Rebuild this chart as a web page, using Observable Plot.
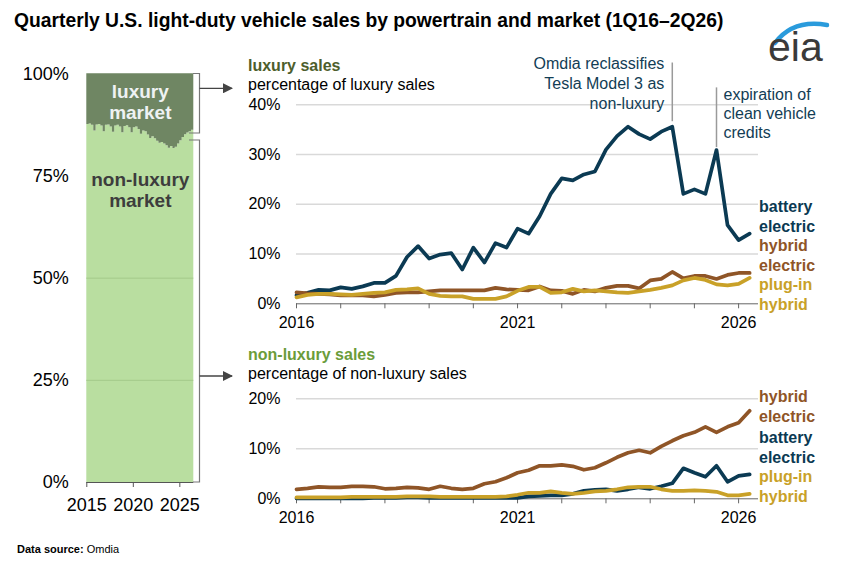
<!DOCTYPE html>
<html><head><meta charset="utf-8">
<script src="https://cdn.jsdelivr.net/npm/d3@7"></script>
<script src="https://cdn.jsdelivr.net/npm/@observablehq/plot@0.6"></script>
<style>
body{margin:0;background:#fff;font-family:"Liberation Sans",Arial,sans-serif;}
#root{position:relative;width:849px;height:580px;overflow:hidden;background:#fff}
.abs{position:absolute;white-space:nowrap}
.title{left:14px;top:10px;font-size:19.3px;font-weight:bold;color:#000}
.head{font-size:16px;line-height:19px}
.lab{font-size:16px;font-weight:bold;line-height:19.6px}
.foot{left:17px;top:543px;font-size:11px;color:#000}
svg{overflow:visible}
</style></head><body><div id="root"></div>
<script>
// ---------- data ----------
const series = ["battery electric", "hybrid electric", "plug-in hybrid"];
const seriesColors = ["#0b3a53", "#8f5527", "#c9a128"];

// quarter labels 1Q16 .. 2Q26
const quarters = [];
for (let y = 16; y <= 26; y++) for (let q = 1; q <= 4; q++) if (!(y === 26 && q > 2)) quarters.push(q + "Q" + y);

// percentage of luxury sales
const bevLux  = [1.7,2.2,2.8,2.7,3.3,3.0,3.5,4.2,4.2,5.6,9.4,11.6,9.1,9.9,10.2,6.9,11.3,8.3,12.2,11.3,15.1,14.1,17.6,22.1,25.2,24.8,26.0,26.6,31.0,33.7,35.6,34.1,33.1,34.6,35.6,22.1,23.0,22.1,30.9,15.8,12.8,14.1];
const hevLux  = [2.3,2.1,2.0,1.9,1.7,1.7,1.7,1.5,1.8,2.2,2.3,2.3,2.5,2.7,2.7,2.7,2.7,2.7,3.2,2.9,2.8,2.7,3.5,2.7,2.6,2.0,2.8,2.5,3.2,3.6,3.6,3.1,4.7,5.0,6.4,5.1,5.6,5.6,5.0,5.8,6.2,6.2];
const phevLux = [1.3,1.8,2.0,2.0,1.9,1.8,2.0,2.2,2.3,2.8,2.9,3.1,2.0,1.6,1.5,1.5,1.0,1.0,1.0,1.5,2.6,3.4,3.4,2.2,2.3,3.0,2.5,2.7,2.5,2.3,2.2,2.5,2.8,3.2,3.7,4.7,5.2,4.8,3.9,3.7,4.0,5.2];

// percentage of non-luxury sales
const bevNon  = [0.1,0.1,0.1,0.1,0.1,0.1,0.1,0.2,0.2,0.2,0.3,0.3,0.2,0.2,0.2,0.2,0.2,0.2,0.2,0.2,0.2,0.5,0.6,0.7,0.7,1.0,1.6,1.8,1.9,1.6,1.9,2.3,2.0,2.5,3.1,6.1,5.2,4.4,6.6,3.4,4.6,4.9];
const hevNon  = [1.9,2.1,2.4,2.3,2.3,2.5,2.5,2.4,2.0,2.1,2.3,2.2,1.9,2.5,2.1,1.9,2.1,3.0,3.4,4.2,5.2,5.7,6.6,6.6,6.8,6.5,5.8,6.2,7.2,8.3,9.2,9.7,9.2,10.5,11.6,12.6,13.3,14.4,13.3,14.4,15.2,17.6];
const phevNon = [0.3,0.3,0.3,0.3,0.3,0.4,0.4,0.4,0.4,0.4,0.5,0.5,0.5,0.4,0.4,0.4,0.4,0.4,0.4,0.5,0.8,1.2,1.2,1.5,1.2,1.0,1.2,1.5,1.6,1.9,2.3,2.4,2.4,1.9,1.6,1.6,1.7,1.6,1.4,0.7,0.7,1.0];

// luxury share of all light-duty sales, 1Q15 .. 2Q26
const shareQuarters = [];
for (let y = 15; y <= 26; y++) for (let q = 1; q <= 4; q++) if (!(y === 26 && q > 2)) shareQuarters.push(q + "Q" + y);
const luxuryShare = [12.4,12.3,12.6,14.0, 12.5,12.4,12.8,14.2, 12.6,12.5,13.0,14.3, 12.8,12.6,13.0,14.4,
                     12.9,12.7,13.2,14.4, 13.2,13.0,13.6,14.8, 14.0,14.2,15.0,15.8, 15.4,15.9,16.5,17.0,
                     16.8,17.2,17.6,18.2, 17.8,18.3,18.0,17.2, 16.4,15.6,14.9,14.5, 14.2,13.8];

const luxYTicks = [0,10,20,30,40];
const nonYTicks = [0,10,20];
const shareYTicks = [0,25,50,75,100];
const xLabelYears = [2016,2021,2026];
const shareXLabelYears = [2015,2020,2025];

const reclassEvent = [{quarter: "3Q24", label: "Omdia reclassifies\nTesla Model 3 as\nnon-luxury"}];
const creditEvent  = [{quarter: "3Q25", label: "expiration of\nclean vehicle\ncredits"}];

// ---------- helpers ----------
const qx = s => 2000 + +s.slice(2) + (+s[0] - 1) / 4;
function longTable(arrs) {
  const out = [];
  arrs.forEach((arr, k) => arr.forEach((v, i) => out.push({x: qx(quarters[i]), value: v, series: series[k]})));
  return out;
}
const luxData = longTable([bevLux, hevLux, phevLux]);
const nonData = longTable([bevNon, hevNon, phevNon]);
const shareData = luxuryShare.map((v, i) => ({x: qx(shareQuarters[i]), lux: v}));
shareData.push({x: shareData[shareData.length - 1].x + 0.25, lux: luxuryShare[luxuryShare.length - 1]});
const reclass = reclassEvent.map(e => ({...e, x: qx(e.quarter)}));
const credit = creditEvent.map(e => ({...e, x: qx(e.quarter)}));

const FONT = '"Liberation Sans", Arial, sans-serif';
const root = document.getElementById("root");
function place(el, left, top) {
  el.style.position = "absolute"; el.style.left = left + "px"; el.style.top = top + "px";
  root.appendChild(el);
}
function html(cls, left, top, inner, color) {
  const d = document.createElement("div");
  d.className = "abs " + cls; d.innerHTML = inner;
  if (left != null) d.style.left = left + "px";
  if (top != null) d.style.top = top + "px";
  if (color) d.style.color = color;
  root.appendChild(d);
  return d;
}

const color = {domain: series, range: seriesColors};
const yearTicks = d3.range(2016, 2027);

function linePanel(data, yMax, yTicks, height, marginTop, extra) {
  return Plot.plot({
    width: 620, height, marginLeft: 76, marginRight: 82, marginTop, marginBottom: 31.7,
    x: {domain: [2016, 2026.45], axis: null},
    y: {domain: [0, yMax], axis: null},
    color,
    style: {fontFamily: FONT, fontSize: "16px", color: "#000", background: "transparent", overflow: "visible"},
    marks: [
      Plot.ruleY(yTicks.filter(d => d > 0), {stroke: "#d9d9d9", strokeWidth: 1.5}),
      Plot.axisY({ticks: yTicks, tickSize: 0, tickPadding: 16, tickFormat: d => d + "%", label: null}),
      Plot.ruleY([0], {stroke: "#666", strokeWidth: 1}),
      Plot.axisX({ticks: yearTicks, tickSize: 5, tickFormat: () => "", stroke: "#666", label: null}),
      Plot.axisX({ticks: xLabelYears, tickSize: 0, tickPadding: 13, tickFormat: d => String(d), label: null}),
      ...extra,
      Plot.line(data, {x: "x", y: "value", z: "series", stroke: "series", strokeWidth: 3.7, strokeLinejoin: "round", strokeLinecap: "round"})
    ]
  });
}

// ---------- top: luxury ----------
const topPlot = linePanel(luxData, 40, luxYTicks, 285, 54.3, [
  Plot.ruleX(reclass, {x: "x", y1: 36.6, y2: 48.4, stroke: "#9a9a9a", strokeWidth: 1.5}),
  Plot.ruleX(credit, {x: "x", y1: 31.4, y2: 43.4, stroke: "#9a9a9a", strokeWidth: 1.5}),
  Plot.text(reclass, {x: "x", text: "label", frameAnchor: "top", lineAnchor: "middle", textAnchor: "end",
    dx: -8, dy: -22.6, lineHeight: 1.25, fill: "#123d55", fontSize: 16}),
  Plot.text(credit, {x: "x", text: "label", frameAnchor: "top", lineAnchor: "middle", textAnchor: "start",
    dx: 7, dy: 8.1, lineHeight: 1.2, fill: "#123d55", fontSize: 16})
]);
place(topPlot, 220, 50);

// ---------- bottom: non-luxury ----------
const botPlot = linePanel(nonData, 20, nonYTicks, 140, 8.3, []);
place(botPlot, 220, 390);

// ---------- left: market share ----------
const leftPlot = Plot.plot({
  width: 210, height: 470, marginLeft: 86.3, marginRight: 16.7, marginTop: 13.3, marginBottom: 48,
  x: {domain: [2015, 2026.5], axis: null},
  y: {domain: [0, 100], axis: null},
  style: {fontFamily: FONT, fontSize: "18px", color: "#000", background: "transparent", overflow: "visible"},
  marks: [
    Plot.areaY(shareData, {x: "x", y1: 0, y2: d => 100 - d.lux, curve: "step-after", fill: "#b9dea0"}),
    Plot.areaY(shareData, {x: "x", y1: d => 100 - d.lux, y2: 100, curve: "step-after", fill: "#6f8663"}),
    Plot.ruleY([25, 50], {stroke: "#a3c98a", strokeWidth: 1}),
    Plot.axisY({ticks: shareYTicks, tickSize: 0, tickPadding: 18, tickFormat: d => d + "%", label: null}),
    Plot.ruleY([0], {stroke: "#555"}),
    Plot.axisX({ticks: shareXLabelYears, tickSize: 5, tickPadding: 11, tickFormat: d => String(d), stroke: "#555", label: null}),
    Plot.text(["luxury\nmarket"], {frameAnchor: "top", lineAnchor: "middle", dy: 27.9, lineHeight: 1.1, fill: "#eef2f3", fontWeight: "bold", fontSize: 19}),
    Plot.text(["non-luxury\nmarket"], {frameAnchor: "top", lineAnchor: "middle", dy: 115.9, lineHeight: 1.14, fill: "#3d3d3d", fontWeight: "bold", fontSize: 19})
  ]
});
place(leftPlot, 0, 60);

// ---------- brackets, arrows, logo ----------
const ns = "http://www.w3.org/2000/svg";
const deco = document.createElementNS(ns, "svg");
deco.setAttribute("width", 849); deco.setAttribute("height", 580);
deco.style.position = "absolute"; deco.style.left = "0"; deco.style.top = "0"; deco.style.pointerEvents = "none";
deco.innerHTML = `
  <defs><marker id="ah" viewBox="0 0 10 10" refX="9" refY="5" markerWidth="10" markerHeight="10" markerUnits="userSpaceOnUse" orient="auto">
    <path d="M0,0L10,5L0,10z" fill="#444"/></marker></defs>
  <path d="M193,73.5H199.5V133H189" fill="none" stroke="#777" stroke-width="1.2"/>
  <path d="M189,140H199.5V482H193" fill="none" stroke="#777" stroke-width="1.2"/>
  <line x1="199.5" y1="88.3" x2="232" y2="88.3" stroke="#444" stroke-width="1.3" marker-end="url(#ah)"/>
  <line x1="199.5" y1="376" x2="232" y2="376" stroke="#444" stroke-width="1.3" marker-end="url(#ah)"/>
  <path d="M775,43 Q793,19 827,25" fill="none" stroke="#2a9bdc" stroke-width="4.5" stroke-linecap="round"/>
  <text x="768" y="61" font-family='${FONT}' font-size="41" fill="#3a3a3a">eia</text>`;
root.appendChild(deco);

// ---------- text ----------
html("title", null, null, "Quarterly U.S. light-duty vehicle sales by powertrain and market (1Q16\u20132Q26)");
html("head", 248, 56, '<b style="color:#4d5e2c">luxury sales</b><br>percentage of luxury sales');
html("head", 248, 345, '<b style="color:#6b9c3a">non-luxury sales</b><br>percentage of non-luxury sales');
html("lab", 759, 197, "battery<br>electric", seriesColors[0]);
html("lab", 759, 236, "hybrid<br>electric", seriesColors[1]);
html("lab", 759, 275, "plug-in<br>hybrid", seriesColors[2]);
html("lab", 759, 387, "hybrid<br>electric", seriesColors[1]);
html("lab", 759, 428, "battery<br>electric", seriesColors[0]);
html("lab", 759, 467, "plug-in<br>hybrid", seriesColors[2]);
html("foot", null, null, "<b>Data source:</b> Omdia");
</script></body></html>
